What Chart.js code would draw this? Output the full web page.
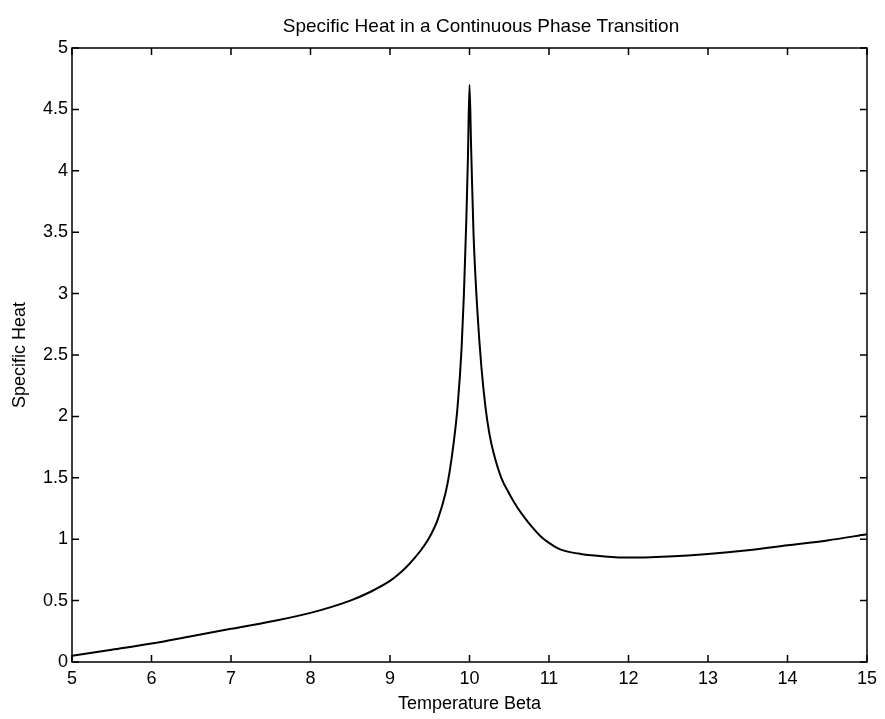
<!DOCTYPE html>
<html>
<head>
<meta charset="utf-8">
<script src="https://cdn.jsdelivr.net/npm/chart.js@4.4.1/dist/chart.umd.min.js"></script>
<style>
  html, body { margin: 0; padding: 0; background: #fff; }
  #wrap { width: 885px; height: 719px; }
</style>
</head>
<body>
<div id="wrap"><canvas id="grafico" width="885" height="719"></canvas></div>
<script>
// ====== DADOS ======
const titulo = "Specific Heat in a Continuous Phase Transition";
const temperatura = [
  5, 5.5, 6, 6.5, 7, 7.5, 8, 8.5, 8.75, 9, 9.1, 9.2, 9.3, 9.4, 9.5, 9.6, 9.7, 9.75,
  9.8, 9.85, 9.9, 9.93, 9.96, 9.98, 10, 10.02, 10.05, 10.1, 10.15, 10.2, 10.25,
  10.3, 10.4, 10.5, 10.6, 10.7, 10.8, 10.9, 11, 11.1, 11.2, 11.4, 11.7, 12, 12.5,
  13, 13.5, 14, 14.5, 15
];
const calorEspecifico = [
  0.05, 0.10, 0.15, 0.21, 0.27, 0.33, 0.40, 0.50, 0.57, 0.66, 0.71, 0.77, 0.84, 0.92, 1.02, 1.16, 1.38, 1.55,
  1.78, 2.08, 2.55, 3.0, 3.6, 4.1, 4.7, 4.2, 3.5, 2.85, 2.4, 2.08, 1.86,
  1.71, 1.5, 1.37, 1.26, 1.17, 1.09, 1.02, 0.97, 0.93, 0.905, 0.88, 0.86, 0.85, 0.86,
  0.88, 0.91, 0.95, 0.99, 1.04
];
const ticksX = [5, 6, 7, 8, 9, 10, 11, 12, 13, 14, 15];
const ticksY = [0, 0.5, 1, 1.5, 2, 2.5, 3, 3.5, 4, 4.5, 5];

const fonte = "'Liberation Sans', Arial, Helvetica, sans-serif";

// ====== CAIXA, TICKS PARA DENTRO E TITULO ======
const caixa = {
  id: "caixa",
  afterDraw(chart) {
    const { ctx, chartArea: a, scales } = chart;
    const len = 7;
    ctx.save();
    ctx.strokeStyle = "#000";
    ctx.lineWidth = 1.5;
    ctx.strokeRect(a.left, a.top, a.right - a.left, a.bottom - a.top);
    ctx.beginPath();
    ticksX.forEach(v => {
      const px = scales.x.getPixelForValue(v);
      ctx.moveTo(px, a.bottom); ctx.lineTo(px, a.bottom - len);
      ctx.moveTo(px, a.top); ctx.lineTo(px, a.top + len);
    });
    ticksY.forEach(v => {
      const py = scales.y.getPixelForValue(v);
      ctx.moveTo(a.left, py); ctx.lineTo(a.left + len, py);
      ctx.moveTo(a.right, py); ctx.lineTo(a.right - len, py);
    });
    ctx.stroke();

    // titulo um pouco deslocado para a direita, como no original
    ctx.fillStyle = "#000";
    ctx.font = "19px " + fonte;
    ctx.textAlign = "center";
    ctx.textBaseline = "middle";
    ctx.fillText(titulo, 481, 27);
    ctx.restore();
  }
};

new Chart(document.getElementById("grafico"), {
  type: "line",
  data: {
    datasets: [{
      data: temperatura.map((t, i) => ({ x: t, y: calorEspecifico[i] })),
      borderColor: "#000",
      borderWidth: 2,
      pointRadius: 0,
      cubicInterpolationMode: "monotone",
      fill: false
    }]
  },
  options: {
    responsive: false,
    animation: false,
    layout: { padding: { top: 48, right: 18, bottom: 0, left: 0 } },
    plugins: {
      legend: { display: false },
      tooltip: { enabled: false },
      title: { display: false }
    },
    scales: {
      x: {
        type: "linear",
        min: 5,
        max: 15,
        afterFit: s => { s.height = 57; },
        afterBuildTicks: s => { s.ticks = ticksX.map(v => ({ value: v })); },
        grid: { display: false, drawTicks: false },
        border: { display: false },
        ticks: { color: "#000", padding: 6, font: { family: fonte, size: 18 }, maxRotation: 0 },
        title: {
          display: true,
          text: "Temperature Beta",
          color: "#000",
          padding: { top: 0, bottom: 4 },
          font: { family: fonte, size: 18 }
        }
      },
      y: {
        type: "linear",
        min: 0,
        max: 5,
        afterFit: s => { s.width = 72; },
        afterBuildTicks: s => { s.ticks = ticksY.map(v => ({ value: v })); },
        grid: { display: false, drawTicks: false },
        border: { display: false },
        ticks: {
          color: "#000",
          padding: 4,
          font: { family: fonte, size: 18 },
          callback: v => String(v)
        },
        title: {
          display: true,
          text: "Specific Heat",
          color: "#000",
          padding: { top: 9, bottom: 0 },
          font: { family: fonte, size: 18 }
        }
      }
    }
  },
  plugins: [caixa]
});
</script>
</body>
</html>
